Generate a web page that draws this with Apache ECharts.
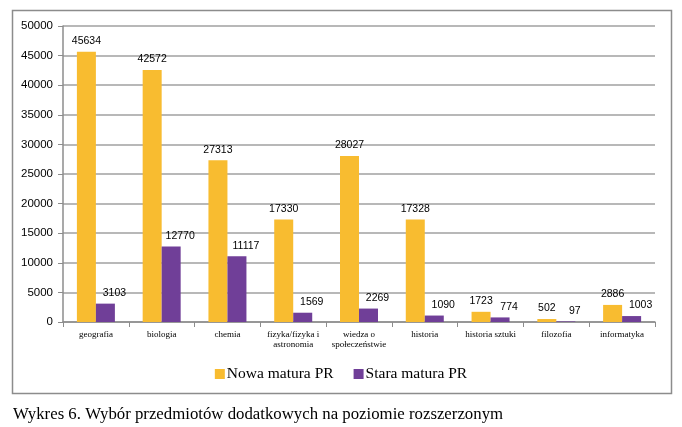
<!DOCTYPE html>
<html><head><meta charset="utf-8">
<script src="https://cdn.jsdelivr.net/npm/echarts@6/dist/echarts.min.js"></script>
<style>html,body{margin:0;padding:0;background:#fff}#c{width:682px;height:427px}</style>
</head><body><div id="c"></div>
<script>
const categories = ['geografia','biologia','chemia','fizyka/fizyka i\nastronomia','wiedza o\nspołeczeństwie','historia','historia sztuki','filozofia','informatyka'];
const nowaMatura = [45634,42572,27313,17330,28027,17328,1723,502,2886];
const staraMatura = [3103,12770,11117,1569,2269,1090,774,97,1003];
const seriesNames = ['Nowa matura PR','Stara matura PR'];
const caption = 'Wykres 6. Wybór przedmiotów dodatkowych na poziomie rozszerzonym';

const chart = echarts.init(document.getElementById('c'), null, {renderer:'canvas'});
const serif = 'Liberation Serif';
const sans = 'Liberation Sans';
chart.setOption({
  animation:false,
  title:{text:caption,left:8,top:401,textStyle:{fontFamily:serif,fontSize:16.8,fontWeight:'normal',color:'#000'}},
  graphic:[{type:'rect',shape:{x:12.5,y:10.5,width:659,height:383},style:{fill:'none',stroke:'#8c8c8c',lineWidth:1.5},z:-1}],
  legend:{bottom:40,left:'center',itemWidth:10,itemHeight:10,itemGap:20,icon:'rect',
    textStyle:{fontFamily:serif,fontSize:15.5,color:'#000',padding:[0,0,0,-3]},data:seriesNames},
  grid:{left:63,right:27,top:26,bottom:105,containLabel:false},
  xAxis:{type:'category',data:categories,
    axisLine:{lineStyle:{color:'#8c8c8c',width:1.5}},
    axisTick:{show:true,length:5,lineStyle:{color:'#8c8c8c'}},
    axisLabel:{fontFamily:serif,fontSize:9,color:'#000',margin:8,interval:0,lineHeight:10}},
  yAxis:{type:'value',min:0,max:50000,interval:5000,
    axisLine:{show:true,lineStyle:{color:'#8c8c8c',width:1.5}},
    axisTick:{show:true,length:5,lineStyle:{color:'#8c8c8c'}},
    splitLine:{lineStyle:{color:'#a0a0a0',width:1.5}},
    axisLabel:{fontFamily:sans,fontSize:11.5,color:'#000',margin:10,formatter:v=>String(v)}},
  series:[
    {name:seriesNames[0],type:'bar',data:nowaMatura,barWidth:19,barGap:'0%',
     itemStyle:{color:'#F8BC30'},
     label:{show:true,position:'top',distance:5,fontFamily:sans,fontSize:10.5,color:'#000'}},
    {name:seriesNames[1],type:'bar',data:staraMatura,barWidth:19,barGap:'0%',
     itemStyle:{color:'#703F98'},
     label:{show:true,position:'top',distance:5,offset:[9,0],fontFamily:sans,fontSize:10.5,color:'#000'}}
  ]
});
</script></body></html>
